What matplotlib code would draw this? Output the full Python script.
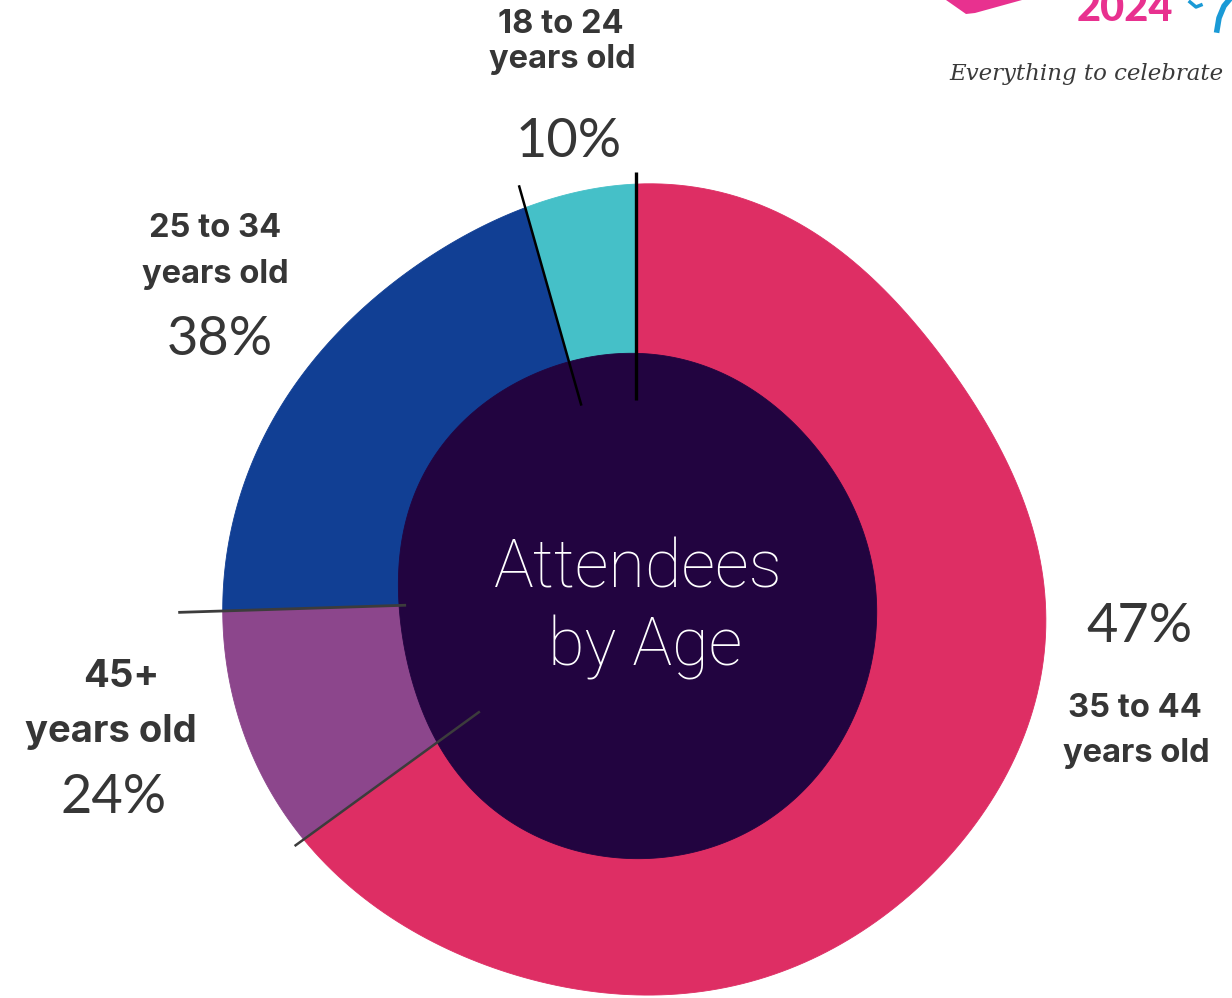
import numpy as np
import matplotlib
matplotlib.use("Agg")
import matplotlib.pyplot as plt
from matplotlib.patches import Polygon

# ---------------- data ----------------
categories = ["18 to 24", "25 to 34", "45+", "35 to 44"]
percent_labels = [10, 38, 24, 47]             # values printed on the chart
wedge_shares = [4.4, 21.1, 9.5, 65.0]         # angular share of each wedge as drawn
colors = ["#45C0C8", "#113F94", "#8C468C", "#DE2E64"]

# ---------------- style ----------------
W, H = 1232, 998
CX, CY = 636, 400
TXT = "#363636"
DARK = "#220440"
blob_angles = np.arange(0, 360, 30)
outer_r = [409, 390, 403, 414, 399, 403, 413, 413, 399, 397, 402, 409]
inner_r = [240, 235, 238, 245, 246, 246, 237, 243, 256, 261, 258, 249]


def blob(radii, theta_deg):
    r = np.asarray(radii, float)
    n = len(r)
    c = np.fft.rfft(r) / n
    t = np.deg2rad(theta_deg)
    out = np.full_like(t, c[0].real, dtype=float)
    for k in range(1, n // 2):
        out += 2 * (c[k] * np.exp(1j * k * t)).real
    return out


fig = plt.figure(figsize=(W / 100, H / 100), dpi=100)
ax = fig.add_axes([0, 0, 1, 1])

wedges, _ = ax.pie(wedge_shares, colors=colors, startangle=90, counterclock=True,
                   center=(CX, CY), radius=420, frame=True)
ax.set_xlim(0, W)
ax.set_ylim(0, H)
ax.set_aspect("equal")
ax.axis("off")

for w in wedges:
    w.set_visible(False)
    th = np.linspace(w.theta1, w.theta2, 200)
    r = blob(outer_r, th)
    xs = CX + r * np.cos(np.deg2rad(th))
    ys = CY + r * np.sin(np.deg2rad(th))
    pts = np.column_stack([np.r_[CX, xs], np.r_[CY, ys]])
    ax.add_patch(Polygon(pts, closed=True, facecolor=w.get_facecolor(),
                         edgecolor=w.get_facecolor(), lw=0.6, zorder=2))

th = np.linspace(0, 360, 720)
ri = blob(inner_r, th)
ax.add_patch(Polygon(np.column_stack([CX + ri * np.cos(np.deg2rad(th)),
                                      CY + ri * np.sin(np.deg2rad(th))]),
                     closed=True, facecolor=DARK, edgecolor=DARK, lw=0.6, zorder=3))

# leader lines at wedge boundaries
bounds = [wedges[0].theta1, wedges[0].theta2, wedges[1].theta2, wedges[2].theta2]
line_in = [198, 200, 230, 193]
line_out = [426, 429, 458, 422]
line_col = ["#000000", "#000000", "#3c3c3c", "#3c3c3c"]
line_w = [2.4, 1.8, 2.0, 1.8]
for a, r0, r1, c, lw in zip(bounds, line_in, line_out, line_col, line_w):
    a = np.deg2rad(a)
    ax.plot([CX + r0 * np.cos(a), CX + r1 * np.cos(a)],
            [CY + r0 * np.sin(a), CY + r1 * np.sin(a)], color=c, lw=lw,
            solid_capstyle="butt", zorder=4)

# labels
LB = dict(family="Inter", weight="bold", color=TXT, ha="center", va="baseline", zorder=5)
LP = dict(family="Lato", weight="normal", color=TXT, ha="center", va="baseline", zorder=5)

ax.text(561, 965, categories[0], fontsize=23.5, **LB)
ax.text(562, 930, "years old", fontsize=23.5, **LB)
ax.text(569, 841, f"{percent_labels[0]}%", fontsize=39, **LP)

ax.text(215, 761, categories[1], fontsize=23.5, **LB)
ax.text(215, 715, "years old", fontsize=23.5, **LB)
ax.text(220, 643, f"{percent_labels[1]}%", fontsize=39, **LP)

ax.text(121, 311, categories[2], fontsize=27.5, **LB)
ax.text(111, 256, "years old", fontsize=27.5, **LB)
ax.text(114, 185, f"{percent_labels[2]}%", fontsize=39, **LP)

ax.text(1139, 356, f"{percent_labels[3]}%", fontsize=39, **LP)
ax.text(1135, 281, categories[3], fontsize=23.5, **LB)
ax.text(1136, 236, "years old", fontsize=23.5, **LB)

ax.text(638, 410, "Attendees", fontsize=48, family="Roboto", weight="light",
        color="white", ha="center", va="baseline", zorder=5)
ax.text(645, 333, "by Age", fontsize=48, family="Roboto", weight="light",
        color="white", ha="center", va="baseline", zorder=5)

# logo fragment (top right)
ax.add_patch(Polygon([(946, 998), (966, 984), (975, 985), (1022, 998)], closed=True,
                     facecolor="#E8318F", edgecolor="none", zorder=5))
ax.text(1125, 977, "2024", fontsize=30, family="Lato", weight="black",
        color="#E8318F", ha="center", va="baseline", zorder=5)
ax.plot([1190, 1196, 1201], [996, 991, 993], color="#1A9AD6", lw=2.5, zorder=5)
ax.plot([1217, 1219, 1224, 1229], [968, 980, 992, 998], color="#1A9AD6", lw=4, zorder=5)
ax.text(1086, 918, "Everything to celebrate", fontsize=16.5, family="DejaVu Serif",
        style="italic", color="#3a3a3a", ha="center", va="baseline", zorder=5)

fig.savefig("out.png", dpi=100, facecolor="white")
